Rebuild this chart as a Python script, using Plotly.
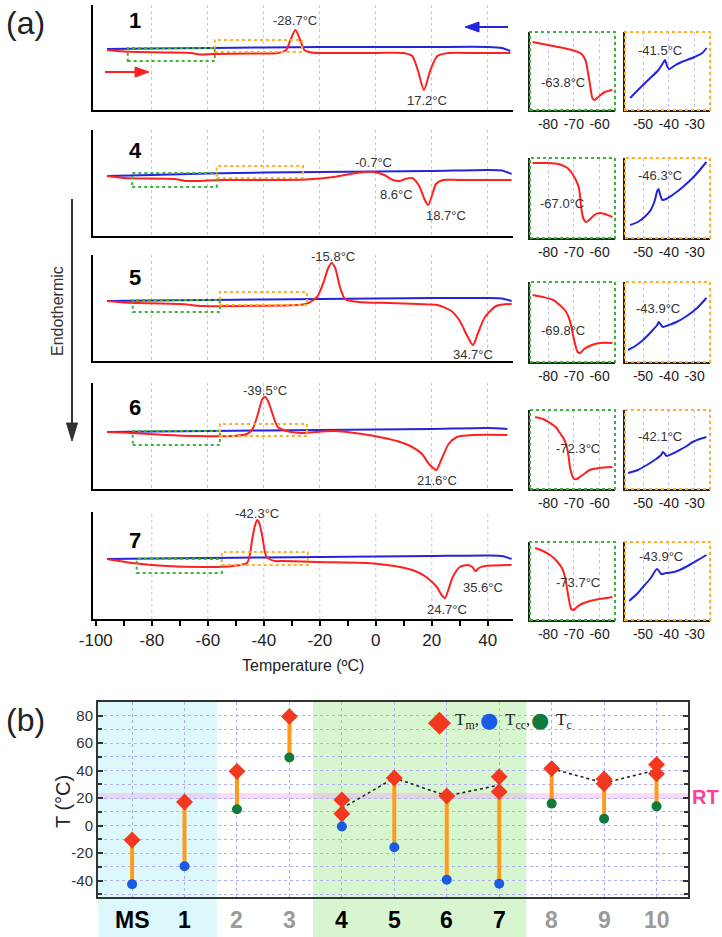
import plotly.graph_objects as go

W, H = 722, 937
FONT = "Liberation Sans, Arial, sans-serif"
RED = "#ff2020"
BLUE = "#2424dd"
GBOX = "#3cb43c"
OBOX = "#ffae2e"
GRID = "#c3c3f3"

# ---------------- Panel (a): DSC curves (heat flow in a.u.) ----------------
s1_heat_T = [-96, -90, -85, -75, -66, -63, -58, -45, -35, -32, -30.5, -28.7, -27, -25.5, -23, -15, 0, 10, 13, 15, 17.2, 19.5, 22, 26, 35, 48]
s1_heat_Q = [60, 58.5, 58, 57.5, 57, 55.5, 56, 56.5, 57, 60, 70, 80, 70, 60, 57.5, 57, 57, 57, 54, 40, 20, 40, 54, 57, 57, 57]
s1_cool_T = [-96, -80, -60, -40, -20, 0, 20, 40, 45, 48]
s1_cool_Q = [61, 61.5, 62, 62.5, 63, 63, 63, 63, 62, 59]

s4_heat_T = [-96, -90, -85, -72, -68, -64, -55, -40, -25, -15, -7, -0.7, 3, 6, 8.6, 10.5, 13, 15.5, 17.5, 18.7, 20, 21.5, 24, 30, 48.5]
s4_heat_Q = [60, 58, 57.5, 57, 55, 55, 56, 56, 56.5, 59, 63, 64, 61, 56, 55, 57, 58, 50, 36, 31, 40, 52, 56, 56, 56]
s4_cool_T = [-96, -80, -60, -40, -20, 0, 20, 40, 45, 48.5]
s4_cool_Q = [60, 61, 62.5, 63.5, 64, 64.5, 65, 66, 65.5, 62]

s5_heat_T = [-96, -90, -85, -70, -62, -50, -35, -25, -21, -18.5, -17, -15.8, -14.5, -13, -11, -6, 5, 15, 22, 27, 30, 32.5, 34.7, 36.5, 39, 43, 48.5]
s5_heat_Q = [60, 58.5, 58, 57, 55, 55, 55.5, 57, 64, 80, 93, 98, 93, 76, 62, 59, 58, 57, 56, 50, 40, 26, 16, 28, 44, 55, 57]
s5_cool_T = [-96, -80, -60, -40, -20, 0, 20, 40, 45, 48.5]
s5_cool_Q = [60, 60.5, 61, 61.5, 62, 62.5, 63, 63, 62.5, 60]

s6_heat_T = [-96, -87, -75, -65, -51, -46, -44, -42, -40.5, -39.5, -38.5, -37, -35, -32, -27, -15, -5, 3, 8.6, 13, 16.5, 19, 21.6, 23.5, 26, 29, 35, 47]
s6_heat_Q = [57, 56, 54, 53, 53, 55, 60, 76, 90, 92, 88, 76, 62, 58, 56, 58, 55, 51, 47, 42, 35, 25, 19, 30, 45, 52, 54, 54]
s6_cool_T = [-96, -80, -60, -40, -20, 0, 20, 40, 47]
s6_cool_Q = [57, 57.5, 58, 58.5, 59, 59.5, 60, 61, 60]

s7_heat_T = [-96, -87, -75, -60, -51, -46, -45, -44, -43, -42.3, -41.5, -40.5, -39, -36, -33, -21, -3, 8.6, 14, 18, 21.8, 23.5, 24.7, 26, 27.5, 30, 32.9, 34.5, 35.6, 36.8, 39, 48.5]
s7_heat_Q = [60, 56, 53, 52, 53, 56, 64, 82, 95, 99, 95, 82, 62, 58, 58, 57, 56, 52, 48, 42, 32, 24, 21, 30, 42, 52, 54, 52, 48, 51, 53, 54]
s7_cool_T = [-96, -80, -60, -40, -20, 0, 20, 40, 45, 48.5]
s7_cool_Q = [60, 60.5, 61, 61.5, 62, 62.5, 63, 63.5, 63, 60]

# insets: glass transition (heating, green) and cooling (orange)
g1_T = [-86, -80, -75, -70, -67, -65.5, -64.5, -63.5, -62.8, -62, -60.5, -58, -55]
g1_Q = [68, 65, 62.5, 59.5, 56, 50, 38, 22, 12, 10, 13, 18, 20]
o1_T = [-55, -52, -48, -44, -42, -41.5, -40.5, -39.8, -38, -35, -30, -27, -25.3]
o1_Q = [12, 20, 30, 40, 48, 50, 43, 41, 44, 48, 53, 57, 62]

g4_T = [-86, -80, -76, -72.5, -70.5, -69, -68, -67.5, -67, -66.2, -65.3, -64, -62, -60, -58, -55]
g4_Q = [75, 75, 74, 70, 64, 57, 50, 40, 28, 19, 16, 18, 23, 25, 24, 21]
o4_T = [-55, -52, -49, -47, -45.5, -44.5, -44, -43.3, -42.5, -41, -38, -35, -30, -25.4]
o4_Q = [13, 16, 22, 28, 37, 47, 49, 43, 38, 39, 44, 50, 62, 76]

g5_T = [-86, -82, -78, -75.5, -73.5, -72, -71, -70.3, -69.5, -68.5, -67.5, -66, -63, -60, -55]
g5_Q = [67, 65, 62, 57, 52, 45, 36, 27, 18, 10, 9, 13, 17, 19, 19]
o5_T = [-55.8, -53, -50, -48, -46.2, -44.5, -43.9, -43, -42.3, -40, -37, -33, -29, -25.4]
o5_Q = [12, 16, 22, 27, 32, 37, 40, 37, 35, 37, 40, 46, 54, 64]

g6_T = [-85, -82, -79.2, -77, -75.4, -73.8, -72.7, -72, -71.5, -70.7, -70, -68.8, -67.7, -65.5, -63.8, -60, -55]
g6_Q = [72, 70, 66, 62, 56, 50, 42, 32, 22, 14, 10, 10, 12, 16, 19, 21, 22]
o6_T = [-55.8, -52, -48.5, -45.5, -43, -42.3, -41.5, -40.8, -38, -35.8, -33, -30.8, -28, -25.4]
o6_Q = [16, 19, 24, 29, 34, 37, 35, 33, 36, 39, 43, 47, 50, 52]

g7_T = [-85, -82, -79.2, -77, -74.6, -73.5, -72.7, -72, -71, -70, -68.8, -67, -65, -60, -55]
g7_Q = [72, 69, 65, 60, 52, 44, 33, 22, 11, 10, 13, 16, 18, 21, 23]
o7_T = [-55.4, -52, -50, -47, -44.6, -43.5, -43, -41, -38, -35.8, -32, -28, -25.4]
o7_Q = [19, 27, 33, 42, 51, 48, 46, 47, 48, 50, 55, 61, 65]

sample_names = ["1", "4", "5", "6", "7"]
peak_labels = [
    [("-28.7°C", -28.7, 90), ("17.2°C", 18.2, 10)],
    [("-0.7°C", -1, 74), ("8.6°C", 7.5, 42), ("18.7°C", 25, 21)],
    [("-15.8°C", -15.3, 105), ("34.7°C", 34.7, 7)],
    [("-39.5°C", -39.6, 99), ("21.6°C", 21.7, 9)],
    [("-42.3°C", -42.5, 106), ("35.6°C", 38.3, 32), ("24.7°C", 25.4, 10)],
]
tg_labels = ["-63.8°C", "-67.0°C", "-69.8°C", "-72.3°C", "-73.7°C"]
tg_label_pos = [(-74.2, 28), (-74.6, 35), (-74.2, 32), (-68.5, 41), (-68.5, 38)]
tx_labels = ["-41.5°C", "-46.3°C", "-43.9°C", "-42.1°C", "-43.9°C"]
tx_label_pos = [(-43.5, 60), (-43.5, 63), (-44.3, 54), (-43.5, 53), (-43, 64)]

temp_ticks = [-100, -80, -60, -40, -20, 0, 20, 40]
temp_tick_labels = ["-100", "-80", "-60", "-40", "-20", "0", "20", "40"]
temp_minor_ticks = [-90, -70, -50, -30, -10, 10, 30]
green_ticks = [-80, -70, -60]
green_tick_labels = ["-80", "-70", "-60"]
orange_ticks = [-50, -40, -30]
orange_tick_labels = ["-50", "-40", "-30"]

# ---------------- Panel (b) data ----------------
cats = ["MS", "1", "2", "3", "4", "5", "6", "7", "8", "9", "10"]
cat_gray = [False, False, True, True, False, False, False, False, True, True, True]
Tm_main = [-10.5, 17.2, 39.5, 79.5, 18.7, 34.7, 21.6, 35.6, 41.5, 34.0, 44.5]
Tm_second = [None, None, None, None, 8.6, None, None, 24.7, None, 30.5, 37.8]
Tcc = [-42.7, -29.6, None, None, -0.7, -15.8, -39.5, -42.3, None, None, None]
Tc = [None, None, 11.9, 49.6, None, None, None, None, 16.0, 5.0, 14.0]
Tm_mean = [None, None, None, None, 12.5, 34.7, 21.6, 29.5, 41.5, 31.0, 40.5]
mean_groups = [[4, 5, 6, 7], [8, 9, 10]]
b_yticks = [-40, -20, 0, 20, 40, 60, 80]
b_ytick_labels = ["-40", "-20", "0", "20", "40", "60", "80"]
legend_names = ["T<sub>m</sub>,", "T<sub>cc</sub>,", "T<sub>c</sub>"]

# ---------------- layout helpers ----------------
def names(n):
    if n == 1:
        return "xaxis", "yaxis", "x", "y"
    return f"xaxis{n}", f"yaxis{n}", f"x{n}", f"y{n}"

def dom_x(a, b):
    return [a / W, b / W]

def dom_y(top, bottom):
    return [1 - bottom / H, 1 - top / H]

def px(xp, yp):
    return xp / W, 1 - yp / H

def txt(text, x, y, xref, yref, size, color="#333", **kw):
    d = dict(text=text, x=x, y=y, xref=xref, yref=yref, showarrow=False,
             xanchor="center", yanchor="middle", font=dict(size=size, color=color))
    d.update(kw)
    return d

fig = go.Figure()
layout = dict(width=W, height=H, margin=dict(l=0, r=0, t=0, b=0, autoexpand=False),
              paper_bgcolor="white", plot_bgcolor="rgba(0,0,0,0)",
              font=dict(family=FONT, color="#222"), showlegend=False)
shapes = []
annots = []

main_tops = [5, 130, 255, 383, 512]
main_bottoms = [110, 236, 361, 489, 619]
inset_tops = [32, 158, 282, 410, 542]
inset_bottoms = [110, 238, 362, 489, 620]

heat_T = [s1_heat_T, s4_heat_T, s5_heat_T, s6_heat_T, s7_heat_T]
heat_Q = [s1_heat_Q, s4_heat_Q, s5_heat_Q, s6_heat_Q, s7_heat_Q]
cool_T = [s1_cool_T, s4_cool_T, s5_cool_T, s6_cool_T, s7_cool_T]
cool_Q = [s1_cool_Q, s4_cool_Q, s5_cool_Q, s6_cool_Q, s7_cool_Q]
gT = [g1_T, g4_T, g5_T, g6_T, g7_T]
gQ = [g1_Q, g4_Q, g5_Q, g6_Q, g7_Q]
oT = [o1_T, o4_T, o5_T, o6_T, o7_T]
oQ = [o1_Q, o4_Q, o5_Q, o6_Q, o7_Q]

green_boxes = [(-88.6, -57.5, 49, 62), (-87, -56.8, 49, 63), (-86.8, -55.7, 49, 61), (-86.8, -55.7, 44, 58), (-85.4, -55, 46, 60)]
orange_boxes = [(-57.5, -26.4, 58, 70), (-56.8, -26, 58, 70), (-55.7, -24.6, 56, 69), (-55.7, -24.6, 53, 65), (-55, -24.3, 54, 67)]
num_y = [90, 86, 84, 82, 79]

line_style = dict(shape="spline", smoothing=0.7, width=2)

for i in range(5):
    n_main = i + 1
    n_g = 6 + i
    n_o = 11 + i
    top, bot = main_tops[i], main_bottoms[i]
    xa, ya, xr, yr = names(n_main)
    xdict = dict(domain=dom_x(93, 513), range=[-101, 49], anchor=yr, automargin=False,
                 showline=True, linecolor="black", linewidth=2, zeroline=False,
                 showgrid=False, fixedrange=True)
    if i < 4:
        xdict.update(tickvals=temp_ticks[1:], showticklabels=False, ticks="",
                     showgrid=True, gridcolor=GRID, griddash="dot", gridwidth=1)
    else:
        xdict.update(tickmode="array", tickvals=temp_ticks, ticktext=temp_tick_labels, ticks="outside",
                     ticklen=5, tickwidth=2, tickcolor="black", tickangle=0,
                     tickfont=dict(size=17, color="#222"),
                     minor=dict(tickmode="array", tickvals=temp_minor_ticks, ticks="outside",
                                ticklen=5, tickwidth=2, tickcolor="black", showgrid=False))
        for v in temp_ticks[1:]:
            shapes.append(dict(type="line", xref=xr, yref=f"{yr} domain", x0=v, x1=v, y0=0, y1=1,
                               line=dict(color=GRID, width=1, dash="dot"), layer="below"))
    layout[xa] = xdict
    layout[ya] = dict(domain=dom_y(top, bot), range=[0, bot - top], anchor=xr, automargin=False,
                      showline=True, linecolor="black", linewidth=2, zeroline=False,
                      showgrid=False, showticklabels=False, ticks="", fixedrange=True)
    fig.add_trace(go.Scatter(x=cool_T[i], y=cool_Q[i], mode="lines", line=dict(color=BLUE, **line_style),
                             xaxis=xr, yaxis=yr, showlegend=False, hoverinfo="skip"))
    fig.add_trace(go.Scatter(x=heat_T[i], y=heat_Q[i], mode="lines", line=dict(color=RED, **line_style),
                             xaxis=xr, yaxis=yr, showlegend=False, hoverinfo="skip"))
    gb, ob = green_boxes[i], orange_boxes[i]
    shapes.append(dict(type="rect", xref=xr, yref=yr, x0=gb[0], x1=gb[1], y0=gb[2], y1=gb[3],
                       line=dict(color=GBOX, width=2, dash="dot"), layer="above"))
    shapes.append(dict(type="rect", xref=xr, yref=yr, x0=ob[0], x1=ob[1], y0=ob[2], y1=ob[3],
                       line=dict(color=OBOX, width=2, dash="dot"), layer="above"))
    annots.append(txt(f"<b>{sample_names[i]}</b>", -86, num_y[i], xr, yr, 22, "black"))
    for (t, lx, ly) in peak_labels[i]:
        annots.append(txt(t, lx, ly, xr, yr, 13))

    itop, ibot = inset_tops[i], inset_bottoms[i]
    for (n, xd, rng, ticks_, tlabels, T, Q, col, box, lab, lpos) in [
        (n_g, (530, 615), [-87, -54], green_ticks, green_tick_labels, gT[i], gQ[i], RED, GBOX, tg_labels[i], tg_label_pos[i]),
        (n_o, (625, 710), [-57, -24], orange_ticks, orange_tick_labels, oT[i], oQ[i], BLUE, OBOX, tx_labels[i], tx_label_pos[i]),
    ]:
        xa2, ya2, xr2, yr2 = names(n)
        layout[xa2] = dict(domain=dom_x(*xd), range=rng, anchor=yr2, showline=True, linecolor="#222",
                           linewidth=2, zeroline=False, tickmode="array", tickvals=ticks_, ticktext=tlabels,
                           ticks="", tickangle=0, automargin=False, tickfont=dict(size=14, color="#222"),
                           showgrid=True, gridcolor=GRID, griddash="dot", gridwidth=1, fixedrange=True)
        layout[ya2] = dict(domain=dom_y(itop, ibot), range=[0, ibot - itop], anchor=xr2, showline=True,
                           linecolor="#222", linewidth=2, zeroline=False, showgrid=False, automargin=False,
                           showticklabels=False, ticks="", fixedrange=True)
        fig.add_trace(go.Scatter(x=T, y=Q, mode="lines", line=dict(color=col, **line_style),
                                 xaxis=xr2, yaxis=yr2, showlegend=False, hoverinfo="skip"))
        shapes.append(dict(type="rect", xref=f"{xr2} domain", yref=f"{yr2} domain", x0=0, x1=1, y0=0, y1=1,
                           line=dict(color=box, width=2, dash="dot"), layer="above"))
        annots.append(txt(lab, lpos[0], lpos[1], xr2, yr2, 13))

# ---- arrows drawn as paper-space shapes (pixel geometry) ----
def arrow(x_tail, y_tail, x_tip, y_tip, color, head_len=13, head_half=5, width=2):
    dx, dy = x_tip - x_tail, y_tip - y_tail
    L = (dx * dx + dy * dy) ** 0.5
    ux, uy = dx / L, dy / L
    bx, by = x_tip - ux * head_len, y_tip - uy * head_len
    nx, ny = -uy, ux
    a = px(x_tail, y_tail)
    b = px(bx, by)
    shapes.append(dict(type="line", xref="paper", yref="paper", x0=a[0], y0=a[1], x1=b[0], y1=b[1],
                       line=dict(color=color, width=width), layer="above"))
    p1 = px(x_tip, y_tip)
    p2 = px(bx + nx * head_half, by + ny * head_half)
    p3 = px(bx - nx * head_half, by - ny * head_half)
    path = f"M {p1[0]} {p1[1]} L {p2[0]} {p2[1]} L {p3[0]} {p3[1]} Z"
    shapes.append(dict(type="path", xref="paper", yref="paper", path=path, fillcolor=color,
                       line=dict(color=color, width=1), layer="above"))

arrow(508, 27, 465, 27, BLUE, head_len=14, head_half=5)
arrow(105, 72, 149, 72, RED, head_len=14, head_half=5)
arrow(72, 199, 72, 441, "#333", head_len=18, head_half=5.5)

annots.append(txt("Endothermic", 57 / W, 1 - 311 / H, "paper", "paper", 16, "#333", textangle=-90))
annots.append(txt("Temperature (ºC)", 303 / W, 1 - 665 / H, "paper", "paper", 16, "#222"))
annots.append(txt("(a)", 25 / W, 1 - 23 / H, "paper", "paper", 32, "#222"))
annots.append(txt("(b)", 25 / W, 1 - 720 / H, "paper", "paper", 32, "#222"))

# ---------------- Panel (b) ----------------
NB = 16
xab, yab, xrb, yrb = names(NB)
layout[xab] = dict(domain=dom_x(98, 688), range=[-0.65, 10.6], anchor=yrb, showline=True, mirror=True,
                   linecolor="#333", linewidth=2, zeroline=False, tickvals=list(range(len(cats))),
                   showticklabels=False, ticks="", showgrid=True, gridcolor="#b0b0f0", griddash="dot",
                   gridwidth=1, fixedrange=True, automargin=False)
layout[yab] = dict(domain=dom_y(702, 897), range=[-52, 90], anchor=xrb, showline=True, mirror="allticks",
                   linecolor="#333", linewidth=2, zeroline=False, tickmode="array", tickvals=b_yticks,
                   ticktext=b_ytick_labels, ticks="inside",
                   ticklen=5, tickwidth=1.5, tickcolor="#333", tickfont=dict(size=15, color="#333"),
                   showgrid=True, gridcolor="#b0b0f0", griddash="dot", gridwidth=1, automargin=False,
                   minor=dict(tickmode="array", tickvals=list(range(-50, 91, 10)), ticks="inside", ticklen=4,
                              tickcolor="#333", showgrid=True, gridcolor="#b0b0f0", griddash="dot"),
                   fixedrange=True)

shapes.append(dict(type="rect", xref=xrb, yref="paper", x0=-0.65, x1=1.62, y0=0, y1=1 - 702 / H,
                   fillcolor="#dcf8fa", line=dict(width=0), layer="below"))
shapes.append(dict(type="rect", xref=xrb, yref="paper", x0=3.45, x1=7.52, y0=0, y1=1 - 702 / H,
                   fillcolor="#d7f6cf", line=dict(width=0), layer="below"))
shapes.append(dict(type="rect", xref=xrb, yref=yrb, x0=-0.65, x1=10.6, y0=19.3, y1=23.7,
                   fillcolor="rgba(240,160,240,0.38)", line=dict(width=0), layer="below"))

bar_x, bar_y = [], []
for i in range(len(cats)):
    low = Tcc[i] if Tcc[i] is not None else Tc[i]
    highs = [v for v in (Tm_main[i], Tm_second[i]) if v is not None]
    bar_x += [i, i, None]
    bar_y += [low, min(highs), None]
fig.add_trace(go.Scatter(x=bar_x, y=bar_y, mode="lines", line=dict(color="#ff9b1c", width=4),
                         xaxis=xrb, yaxis=yrb, showlegend=False, hoverinfo="skip"))

mx, my = [], []
for g in mean_groups:
    for k in g:
        mx.append(k)
        my.append(Tm_mean[k])
    mx.append(None)
    my.append(None)
fig.add_trace(go.Scatter(x=mx, y=my, mode="lines", line=dict(color="#222", width=1.6, dash="dot"),
                         xaxis=xrb, yaxis=yrb, showlegend=False, hoverinfo="skip"))

tm_x = [i for i, v in enumerate(Tm_main) if v is not None] + [i for i, v in enumerate(Tm_second) if v is not None]
tm_y = [v for v in Tm_main if v is not None] + [v for v in Tm_second if v is not None]
tcc_x = [i for i, v in enumerate(Tcc) if v is not None]
tcc_y = [v for v in Tcc if v is not None]
tc_x = [i for i, v in enumerate(Tc) if v is not None]
tc_y = [v for v in Tc if v is not None]

TM_COL, TCC_COL, TC_COL = "#f2391f", "#1a5be6", "#127a3c"
fig.add_trace(go.Scatter(x=tm_x, y=tm_y, mode="markers", name="Tm",
                         marker=dict(symbol="diamond", size=13, color=TM_COL),
                         xaxis=xrb, yaxis=yrb, hoverinfo="skip"))
fig.add_trace(go.Scatter(x=tcc_x, y=tcc_y, mode="markers", name="Tcc",
                         marker=dict(symbol="circle", size=10, color=TCC_COL),
                         xaxis=xrb, yaxis=yrb, hoverinfo="skip"))
fig.add_trace(go.Scatter(x=tc_x, y=tc_y, mode="markers", name="Tc",
                         marker=dict(symbol="circle", size=10, color=TC_COL),
                         xaxis=xrb, yaxis=yrb, hoverinfo="skip"))

# legend (keys + serif labels) at the top of panel (b)
LEG_Y = 1 - 720 / H
SERIF = "Liberation Serif, Times New Roman, serif"
for k, (sym, col, ssz, xk) in enumerate([("◆", TM_COL, 30, 439), ("●", TCC_COL, 21, 489), ("●", TC_COL, 21, 540)]):
    annots.append(dict(text=sym, x=xk / W, y=LEG_Y, xref="paper", yref="paper", showarrow=False,
                       xanchor="center", yanchor="middle",
                       font=dict(size=ssz, color=col, family="DejaVu Sans, sans-serif")))
    annots.append(dict(text=legend_names[k], x=(xk + 14) / W, y=LEG_Y - 1 / H, xref="paper", yref="paper",
                       showarrow=False, xanchor="left", yanchor="middle",
                       font=dict(size=17, color="#222", family=SERIF)))

for i, c in enumerate(cats):
    annots.append(txt(f"<b>{c}</b>", i, 1 - 920 / H, xrb, "paper", 23, "#9a9a9a" if cat_gray[i] else "black"))
annots.append(txt("<b>RT</b>", 705 / W, 21, "paper", yrb, 20, "#ff3d9a"))
annots.append(txt("T (°C)", 63 / W, 1 - 802 / H, "paper", "paper", 20, "#222", textangle=-90))

layout["shapes"] = shapes
layout["annotations"] = annots
fig.update_layout(**layout)
fig.write_html("out.html")
